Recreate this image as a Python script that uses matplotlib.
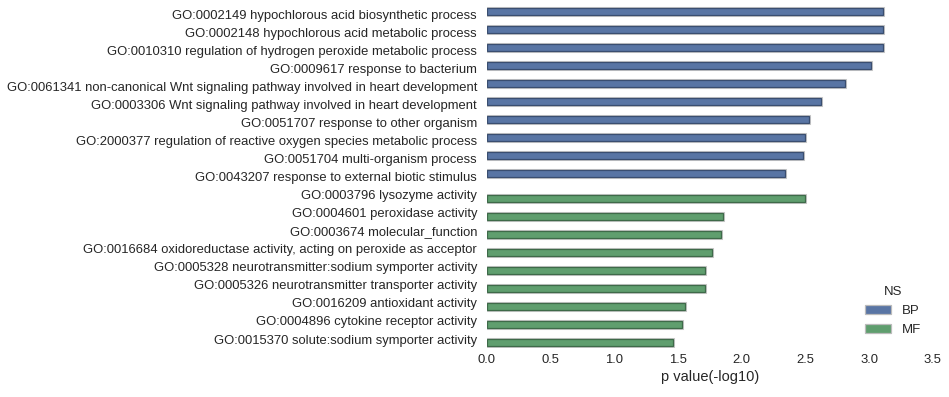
import matplotlib
matplotlib.use("Agg")
import matplotlib.pyplot as plt
import numpy as np

plt.rcParams['font.family'] = ['Liberation Sans', 'DejaVu Sans']

terms = [
    "GO:0002149 hypochlorous acid biosynthetic process",
    "GO:0002148 hypochlorous acid metabolic process",
    "GO:0010310 regulation of hydrogen peroxide metabolic process",
    "GO:0009617 response to bacterium",
    "GO:0061341 non-canonical Wnt signaling pathway involved in heart development",
    "GO:0003306 Wnt signaling pathway involved in heart development",
    "GO:0051707 response to other organism",
    "GO:2000377 regulation of reactive oxygen species metabolic process",
    "GO:0051704 multi-organism process",
    "GO:0043207 response to external biotic stimulus",
    "GO:0003796 lysozyme activity",
    "GO:0004601 peroxidase activity",
    "GO:0003674 molecular_function",
    "GO:0016684 oxidoreductase activity, acting on peroxide as acceptor",
    "GO:0005328 neurotransmitter:sodium symporter activity",
    "GO:0005326 neurotransmitter transporter activity",
    "GO:0016209 antioxidant activity",
    "GO:0004896 cytokine receptor activity",
    "GO:0015370 solute:sodium symporter activity",
]
ns = ["BP"] * 10 + ["MF"] * 9
pvals = [3.106, 3.106, 3.106, 3.017, 2.81, 2.625, 2.525, 2.50, 2.478, 2.337,
         2.50, 1.851, 1.835, 1.765, 1.71, 1.71, 1.553, 1.53, 1.459]
groups = ["BP", "MF"]
colors = {"BP": "#5975A4", "MF": "#5F9E6E"}
edges = {"BP": "#3A4E70", "MF": "#3E6A49"}

fig = plt.figure(figsize=(9.49, 3.97), dpi=100)
ax = fig.add_axes([0.513, 0.1234, 0.470, 0.862])

width = 0.4
for gi, g in enumerate(groups):
    offset = -0.2 + gi * width
    idx = [i for i, n in enumerate(ns) if n == g]
    ypos = [i + offset for i in idx]
    vals = [pvals[i] for i in idx]
    ax.barh(ypos, vals, height=width, color="none",
            edgecolor="#C8C8C8", linewidth=2.2, zorder=1)
    ax.barh(ypos, vals, height=width,
            color=colors[g], edgecolor=edges[g], linewidth=0.9, label=g, zorder=2)

ax.set_yticks(range(len(terms)))
ax.set_yticklabels(terms)
ax.set_ylim(len(terms) - 0.5, -0.5)
ax.set_xlim(0, 3.5)
ax.set_xticks(np.arange(0, 3.51, 0.5))
ax.set_xlabel("p value(-log10)", fontsize=10.5, color="#262626", labelpad=3)
ax.tick_params(axis='y', length=0, labelsize=9.4, colors="#262626", pad=7)
ax.tick_params(axis='x', length=0, labelsize=9.4, colors="#262626", pad=4)
for s in ax.spines.values():
    s.set_visible(False)

leg = ax.legend(title="NS", loc="lower right", frameon=False, fontsize=9.5,
                title_fontsize=9.5, bbox_to_anchor=(1.0, 0.0))
for t in leg.get_texts():
    t.set_color("#262626")
leg.get_title().set_color("#262626")
for h in leg.legend_handles:
    h.set_edgecolor("#BBBBBB")

fig.savefig("out.png", dpi=100)
